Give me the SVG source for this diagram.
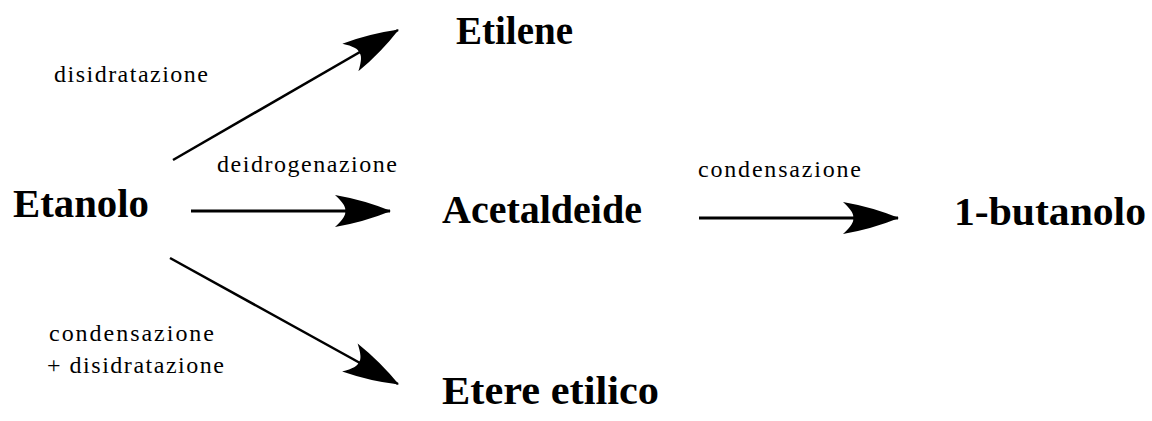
<svg xmlns="http://www.w3.org/2000/svg" width="1152" height="421" viewBox="0 0 1152 421">
<style>
.big{font-family:"Liberation Serif","Times New Roman",serif;font-weight:bold;font-size:40px;fill:#000}
.lbl{font-family:"Liberation Serif","Times New Roman",serif;font-size:24px;fill:#000}
.ln{stroke:#000;fill:none}
</style>
<defs>
<marker id="ah" markerUnits="userSpaceOnUse" markerWidth="70" markerHeight="40" refX="0" refY="0" orient="auto" overflow="visible">
<path d="M1,0 Q-26,-11 -55,-16 Q-43,-5 -45,0 Q-43,5 -55,16 Q-26,11 1,0 Z" fill="#000"/>
</marker>
</defs>
<rect width="1152" height="421" fill="#fff"/>
<g id="connectors">
<line class="ln" x1="173" y1="160" x2="398" y2="30" stroke-width="2.5" marker-end="url(#ah)"/>
<line class="ln" x1="191" y1="211" x2="390" y2="211" stroke-width="3" marker-end="url(#ah)"/>
<line class="ln" x1="170" y1="258" x2="398" y2="384" stroke-width="2.5" marker-end="url(#ah)"/>
<line class="ln" x1="699" y1="218" x2="898" y2="218" stroke-width="3" marker-end="url(#ah)"/>
</g>
<g id="labels">
<text class="lbl" x="54" y="82" textLength="154" lengthAdjust="spacing">disidratazione</text>
<text class="lbl" x="217" y="172" textLength="180" lengthAdjust="spacing">deidrogenazione</text>
<text class="lbl" x="698" y="177" textLength="163" lengthAdjust="spacing">condensazione</text>
<text class="lbl" x="49" y="341" textLength="165" lengthAdjust="spacing">condensazione</text>
<text class="lbl" x="47" y="373" textLength="177" lengthAdjust="spacing">+ disidratazione</text>
</g>
<g id="node-etanolo"><text class="big" x="13" y="217" textLength="136" lengthAdjust="spacingAndGlyphs">Etanolo</text></g>
<g id="node-etilene"><text class="big" x="456" y="44" textLength="117" lengthAdjust="spacingAndGlyphs">Etilene</text></g>
<g id="node-acetaldeide"><text class="big" x="442" y="223" textLength="200" lengthAdjust="spacingAndGlyphs">Acetaldeide</text></g>
<g id="node-butanolo"><text class="big" x="954" y="225" textLength="192" lengthAdjust="spacingAndGlyphs">1-butanolo</text></g>
<g id="node-etere"><text class="big" x="442" y="404" textLength="217" lengthAdjust="spacingAndGlyphs">Etere etilico</text></g>
</svg>
